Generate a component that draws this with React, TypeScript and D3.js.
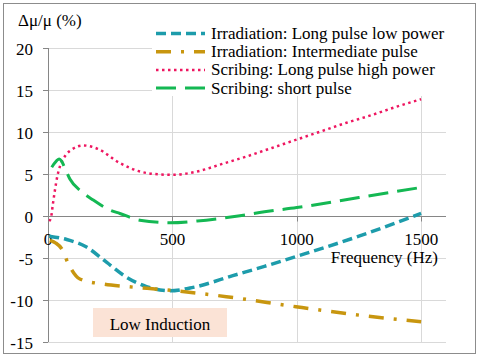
import React, { useRef, useEffect } from 'react';
import * as d3 from 'd3';

// Irradiation: Long pulse low power
const irrLongFreq = [5, 75, 155, 235, 316, 396, 490, 583, 743, 870, 1000, 1250, 1500];
const irrLongVal = [-2.4, -2.8, -3.7, -5.5, -7.3, -8.4, -8.9, -8.5, -7.1, -6.0, -4.8, -2.4, 0.3];

// Irradiation: Intermediate pulse
const irrInterFreq = [8, 30, 55, 82, 128, 221, 316, 476, 717, 997, 1250, 1500];
const irrInterVal = [-2.9, -3.2, -3.9, -5.7, -7.5, -8.1, -8.4, -8.8, -9.6, -10.8, -11.8, -12.6];

// Scribing: Long pulse high power
const scrLongFreq = [5, 12, 20, 28, 38, 48, 70, 95, 142, 200, 289, 369, 450, 500, 600, 700, 800, 900, 1000, 1100, 1200, 1300, 1400, 1500];
const scrLongVal = [-0.6, -0.2, 1.5, 3.1, 4.8, 5.9, 7.2, 7.9, 8.4, 8.0, 6.3, 5.3, 4.95, 4.9, 5.3, 6.2, 7.1, 8.1, 9.1, 10.1, 11.1, 12.0, 13.0, 13.9];

// Scribing: short pulse
const scrShortFreq = [15, 24, 35, 45, 55, 68, 88, 135, 182, 249, 289, 369, 490, 600, 742, 870, 1000, 1250, 1500];
const scrShortVal = [5.8, 6.2, 6.6, 6.8, 6.5, 5.7, 4.4, 2.9, 1.9, 0.7, 0.3, -0.5, -0.8, -0.6, -0.1, 0.5, 1.0, 2.2, 3.4];

const yTicks = [20, 15, 10, 5, 0, -5, -10, -15];
const xTicks = [0, 500, 1000, 1500];

const seriesNames = [
  'Irradiation: Long pulse low power',
  'Irradiation: Intermediate pulse',
  'Scribing: Long pulse high power',
  'Scribing: short pulse',
];

const App = () => {
  const chartRef = useRef<SVGSVGElement | null>(null);

  useEffect(() => {
    if (!chartRef.current) return;
    const svg = d3.select(chartRef.current);
    svg.selectAll('*').remove();

    const width = 480;
    const height = 357;
    const margin = { top: 48, right: 34, bottom: 15, left: 48 };
    const fontSize = '17px';

    const x = d3.scaleLinear().domain([0, 1600]).range([margin.left, width - margin.right]);
    const y = d3.scaleLinear().domain([-15, 20]).range([height - margin.bottom, margin.top]);

    // outer frame
    svg.append('rect')
      .attr('x', 3.5).attr('y', 3.5)
      .attr('width', 472).attr('height', 350)
      .attr('fill', 'white')
      .attr('stroke', '#8c8c8c');

    // horizontal grid
    yTicks.filter(t => t !== 0).forEach(t => {
      svg.append('line')
        .attr('x1', x(0)).attr('x2', x(1600))
        .attr('y1', Math.round(y(t)) + 0.5).attr('y2', Math.round(y(t)) + 0.5)
        .attr('stroke', '#d9d9d9');
    });
    // vertical grid
    xTicks.filter(t => t !== 0).forEach(t => {
      svg.append('line')
        .attr('x1', Math.round(x(t)) + 0.5).attr('x2', Math.round(x(t)) + 0.5)
        .attr('y1', y(20)).attr('y2', y(-15))
        .attr('stroke', '#d9d9d9');
    });

    // y axis
    const axisColor = '#868686';
    svg.append('line')
      .attr('x1', x(0) + 0.5).attr('x2', x(0) + 0.5)
      .attr('y1', y(20)).attr('y2', y(-15))
      .attr('stroke', axisColor);
    yTicks.forEach(t => {
      const py = Math.round(y(t)) + 0.5;
      svg.append('line')
        .attr('x1', x(0) - 5).attr('x2', x(0))
        .attr('y1', py).attr('y2', py)
        .attr('stroke', axisColor);
      svg.append('text')
        .attr('x', 33).attr('y', py + 6)
        .attr('text-anchor', 'end')
        .attr('font-size', fontSize)
        .text(t);
    });

    // x axis at zero
    const y0 = Math.round(y(0)) + 0.5;
    svg.append('line')
      .attr('x1', x(0)).attr('x2', x(1600))
      .attr('y1', y0).attr('y2', y0)
      .attr('stroke', axisColor);
    xTicks.forEach(t => {
      svg.append('line')
        .attr('x1', Math.round(x(t)) + 0.5).attr('x2', Math.round(x(t)) + 0.5)
        .attr('y1', y0).attr('y2', y0 + 5)
        .attr('stroke', axisColor);
      svg.append('text')
        .attr('x', x(t)).attr('y', 245)
        .attr('text-anchor', 'middle')
        .attr('font-size', fontSize)
        .text(t);
    });

    // axis titles
    svg.append('text')
      .attr('x', 18).attr('y', 26)
      .attr('font-size', fontSize)
      .text('Δμ/μ (%)');
    svg.append('text')
      .attr('x', 438).attr('y', 263)
      .attr('text-anchor', 'end')
      .attr('font-size', fontSize)
      .text('Frequency (Hz)');

    // Low Induction box
    svg.append('rect')
      .attr('x', 93).attr('y', 308)
      .attr('width', 134).attr('height', 29)
      .attr('fill', '#fbe3d6');
    svg.append('text')
      .attr('x', 160).attr('y', 330)
      .attr('text-anchor', 'middle')
      .attr('font-size', fontSize)
      .text('Low Induction');

    const styles = [
      { color: '#1d9cab', width: 3.5, dash: '10,5' },
      { color: '#c8960f', width: 3.5, dash: '15,10,3,10' },
      { color: '#ee1660', width: 2.5, dash: '2.5,3.5' },
      { color: '#14b853', width: 3, dash: '20,9' },
    ];
    const dataSets = [
      d3.zip(irrLongFreq, irrLongVal),
      d3.zip(irrInterFreq, irrInterVal),
      d3.zip(scrLongFreq, scrLongVal),
      d3.zip(scrShortFreq, scrShortVal),
    ];

    const line = d3.line<number[]>()
      .x(d => x(d[0]))
      .y(d => y(d[1]))
      .curve(d3.curveMonotoneX);

    dataSets.forEach((data, i) => {
      svg.append('path')
        .datum(data)
        .attr('fill', 'none')
        .attr('stroke', styles[i].color)
        .attr('stroke-width', styles[i].width)
        .attr('stroke-dasharray', styles[i].dash)
        .attr('d', line);
    });

    // legend
    const legend = svg.append('g').attr('transform', 'translate(152,22)');
    legend.append('rect')
      .attr('x', 0).attr('y', 0)
      .attr('width', 298).attr('height', 74)
      .attr('fill', 'white');
    seriesNames.forEach((name, i) => {
      const ly = 11.5 + i * 18.2;
      legend.append('line')
        .attr('x1', 4).attr('x2', 53)
        .attr('y1', ly).attr('y2', ly)
        .attr('stroke', styles[i].color)
        .attr('stroke-width', styles[i].width)
        .attr('stroke-dasharray', styles[i].dash);
      legend.append('text')
        .attr('x', 59).attr('y', ly + 5.5)
        .attr('font-size', '17px')
        .text(name);
    });
  }, []);

  return (
    <svg ref={chartRef} width="480" height="357"
      fontFamily="'Liberation Serif', 'DejaVu Serif', serif"
      style={{ position: 'absolute', left: 0, top: 0 }}></svg>
  );
};

export default App;
